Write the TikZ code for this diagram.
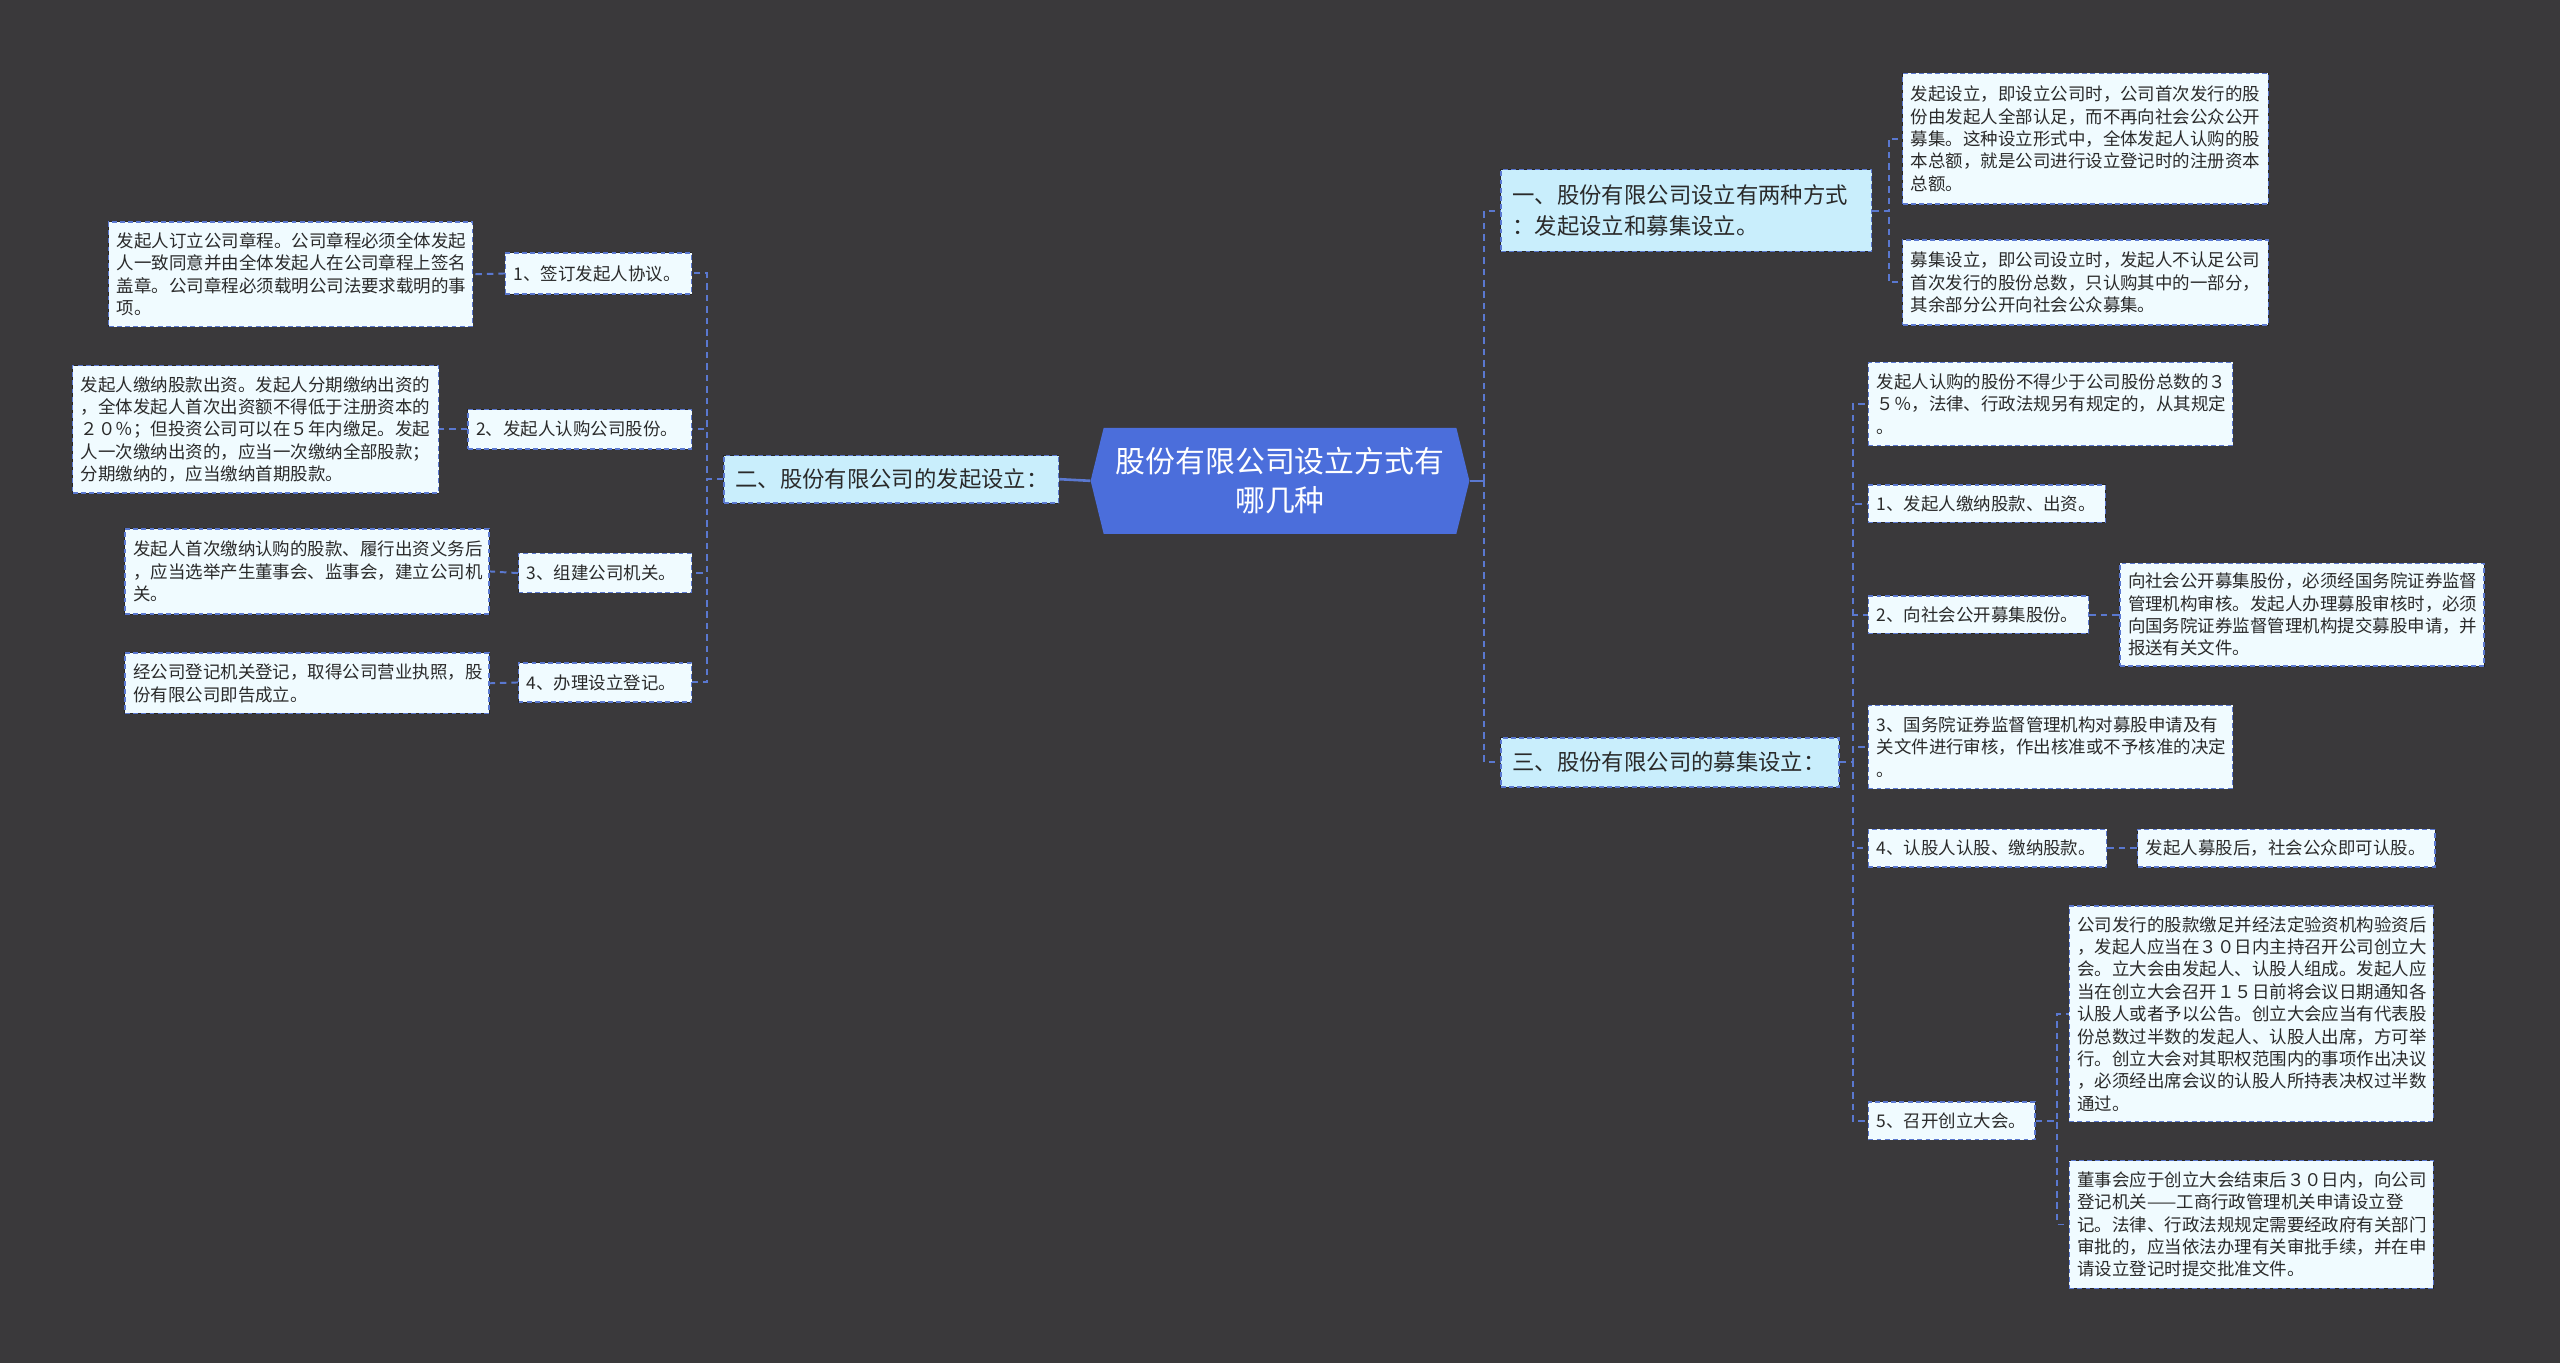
\documentclass[tikz,border=0pt]{standalone}
\usepackage{fontspec}
\newfontfamily\cjk{Noto Sans CJK SC}
\definecolor{bg}{HTML}{3A393B}
\definecolor{leaffill}{HTML}{F0FBFF}
\definecolor{brfill}{HTML}{C9EEFC}
\definecolor{bord}{HTML}{5A78D0}
\definecolor{cfill}{HTML}{4B6EDB}
\definecolor{txt}{HTML}{2A2A2A}
\tikzset{
  boxbase/.style={draw=bord, dash pattern=on 3pt off 2pt, line width=0.8pt, preaction={draw=black!85, solid, line width=0.8pt}, align=left, text=txt, inner ysep=0pt},
  leaf/.style={boxbase, fill=leaffill, inner xsep=5pt, font=\cjk\fontsize{10.7}{13.7}\selectfont},
  branch/.style={boxbase, fill=brfill, inner xsep=7pt, font=\cjk\fontsize{13.7}{19}\selectfont},
  conn/.style={draw=bord, line width=1.2pt, dash pattern=on 4pt off 3pt},
  link/.style={draw=bord, line width=1.6pt}
}
\begin{document}
\begin{tikzpicture}[x=1pt,y=-1pt]
\fill[bg] (0,0) rectangle (1568,835);
% central topic
\fill[cfill] (668,294.5) -- (676,262) -- (892,262) -- (900,294.5) -- (892,327) -- (676,327) -- cycle;
\node[minimum width=232pt, minimum height=65pt, align=center, text=white, font=\cjk\fontsize{18.3}{24}\selectfont] (c) at (784,294.5) {股份有限公司设立方式有\\哪几种};

% right branch 1
\node[branch, anchor=west, text width=213pt, minimum height=50pt] (b1) at (919,129) {一、股份有限公司设立有两种方式\\：发起设立和募集设立。};
\node[leaf, anchor=west, text width=214pt, minimum height=80pt] (a1) at (1165,85) {发起设立，即设立公司时，公司首次发行的股\\份由发起人全部认足，而不再向社会公众公开\\募集。这种设立形式中，全体发起人认购的股\\本总额，就是公司进行设立登记时的注册资本\\总额。};
\node[leaf, anchor=west, text width=214pt, minimum height=52pt] (a2) at (1165,173) {募集设立，即公司设立时，发起人不认足公司\\首次发行的股份总数，只认购其中的一部分，\\其余部分公开向社会公众募集。};

% right branch 3
\node[branch, anchor=west, text width=193pt, minimum height=30pt] (b3) at (919,467) {三、股份有限公司的募集设立：};
\node[leaf, anchor=west, text width=213pt, minimum height=51pt] (c1) at (1144,247.5) {发起人认购的股份不得少于公司股份总数的３\\５％，法律、行政法规另有规定的，从其规定\\。};
\node[leaf, anchor=west, text width=135pt, minimum height=23pt] (c2) at (1144,308.5) {1、发起人缴纳股款、出资。};
\node[leaf, anchor=west, text width=125pt, minimum height=23pt] (c3) at (1144,376.5) {2、向社会公开募集股份。};
\node[leaf, anchor=west, text width=213pt, minimum height=63pt] (c3a) at (1298,376.5) {向社会公开募集股份，必须经国务院证券监督\\管理机构审核。发起人办理募股审核时，必须\\向国务院证券监督管理机构提交募股申请，并\\报送有关文件。};
\node[leaf, anchor=west, text width=213pt, minimum height=51pt] (c4) at (1144,457.5) {3、国务院证券监督管理机构对募股申请及有\\关文件进行审核，作出核准或不予核准的决定\\。};
\node[leaf, anchor=west, text width=136pt, minimum height=23pt] (c5) at (1144,519.5) {4、认股人认股、缴纳股款。};
\node[leaf, anchor=west, text width=172pt, minimum height=23pt] (c5a) at (1309,519.5) {发起人募股后，社会公众即可认股。};
\node[leaf, anchor=west, text width=92pt, minimum height=23pt] (c6) at (1144,686.5) {5、召开创立大会。};
\node[leaf, anchor=west, text width=213pt, minimum height=132pt] (c6a) at (1267,621) {公司发行的股款缴足并经法定验资机构验资后\\，发起人应当在３０日内主持召开公司创立大\\会。立大会由发起人、认股人组成。发起人应\\当在创立大会召开１５日前将会议日期通知各\\认股人或者予以公告。创立大会应当有代表股\\份总数过半数的发起人、认股人出席，方可举\\行。创立大会对其职权范围内的事项作出决议\\，必须经出席会议的认股人所持表决权过半数\\通过。};
\node[leaf, anchor=west, text width=213pt, minimum height=78pt] (c6b) at (1267,750) {董事会应于创立大会结束后３０日内，向公司\\登记机关——工商行政管理机关申请设立登\\记。法律、行政法规规定需要经政府有关部门\\审批的，应当依法办理有关审批手续，并在申\\请设立登记时提交批准文件。};

% left branch 2
\node[branch, anchor=west, text width=191pt, minimum height=29pt] (b2) at (443,293.5) {二、股份有限公司的发起设立：};
\node[leaf, anchor=east, text width=104pt, minimum height=25pt] (l1) at (424,167.5) {1、签订发起人协议。};
\node[leaf, anchor=east, text width=213pt, minimum height=64pt] (l1a) at (290,168) {发起人订立公司章程。公司章程必须全体发起\\人一致同意并由全体发起人在公司章程上签名\\盖章。公司章程必须载明公司法要求载明的事\\项。};
\node[leaf, anchor=east, text width=127pt, minimum height=24pt] (l2) at (424,263) {2、发起人认购公司股份。};
\node[leaf, anchor=east, text width=214pt, minimum height=78pt] (l2a) at (269,263) {发起人缴纳股款出资。发起人分期缴纳出资的\\，全体发起人首次出资额不得低于注册资本的\\２０％；但投资公司可以在５年内缴足。发起\\人一次缴纳出资的，应当一次缴纳全部股款；\\分期缴纳的，应当缴纳首期股款。};
\node[leaf, anchor=east, text width=96pt, minimum height=24pt] (l3) at (424,351) {3、组建公司机关。};
\node[leaf, anchor=east, text width=213pt, minimum height=52pt] (l3a) at (300,350) {发起人首次缴纳认购的股款、履行出资义务后\\，应当选举产生董事会、监事会，建立公司机\\关。};
\node[leaf, anchor=east, text width=96pt, minimum height=24pt] (l4) at (424,418) {4、办理设立登记。};
\node[leaf, anchor=east, text width=213pt, minimum height=37pt] (l4a) at (300,418.5) {经公司登记机关登记，取得公司营业执照，股\\份有限公司即告成立。};

% connectors
\draw[link] (c.east) -- ++(9,0);
\draw[conn] (c.east) ++(9,0) |- (b1.west);
\draw[conn] (c.east) ++(9,0) |- (b3.west);
\draw[link] (c.west) -- (b2.east);

\draw[conn] (b1.east) -- ++(10,0) |- (a1.west);
\draw[conn] (b1.east) -- ++(10,0) |- (a2.west);

\foreach \n in {c1,c2,c3,c4,c5,c6}
  \draw[conn] (b3.east) -- ++(8,0) |- (\n.west);
\draw[conn] (c3.east) -- (c3a.west);
\draw[conn] (c5.east) -- (c5a.west);
\draw[conn] (c6.east) -- ++(13,0) |- (c6a.west);
\draw[conn] (c6.east) -- ++(13,0) |- (c6b.west);

\foreach \n in {l1,l2,l3,l4}
  \draw[conn] (b2.west) -- ++(-10,0) |- (\n.east);
\draw[conn] (l1.west) -- (l1a.east);
\draw[conn] (l2.west) -- (l2a.east);
\draw[conn] (l3.west) -- (l3a.east);
\draw[conn] (l4.west) -- (l4a.east);
\end{tikzpicture}
\end{document}
